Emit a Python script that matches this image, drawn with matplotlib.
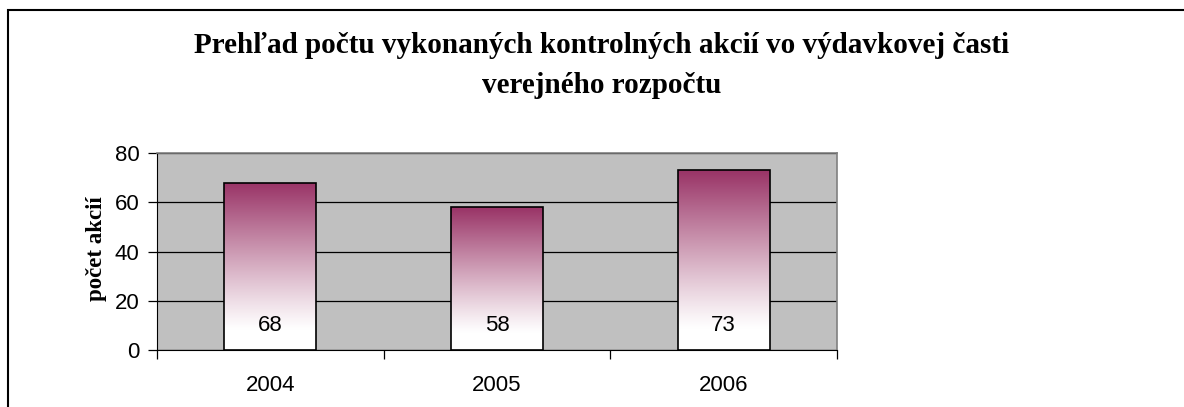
import matplotlib
matplotlib.use("Agg")
import matplotlib.pyplot as plt
import numpy as np
from matplotlib.patches import Rectangle

years = ["2004", "2005", "2006"]
counts = [68, 58, 73]
yticks = [0, 20, 40, 60, 80]
title_lines = ["Prehľad počtu vykonaných kontrolných akcií vo výdavkovej časti",
               "verejného rozpočtu"]
ylabel = "počet akcií"

plum = np.array([0x99, 0x33, 0x66]) / 255.0

W, H = 1184, 407
fig = plt.figure(figsize=(W / 100, H / 100), dpi=100)
ax = fig.add_axes([157 / W, 57 / H, 680 / W, 197 / H])
ax.set_facecolor("#c0c0c0")

# outer chart border (cut off at right and bottom)
fig.patches.append(Rectangle((8 / W, -0.1), 1.2, (397 / H) + 0.1,
                             transform=fig.transFigure, fill=False,
                             edgecolor="black", linewidth=1.5))

x = np.arange(len(years))
width = 0.405
bars = ax.bar(x, counts, width, color="none", edgecolor="black", linewidth=1.2, zorder=3)

# vertical gradient in each bar: plum at top -> white at bottom
t = np.linspace(0, 1, 256).reshape(-1, 1)
grad = np.clip((t - 0.12) / 0.88, 0, 1) ** 1.1
img = np.ones((256, 1, 3)) * (1 - grad[..., None]) + plum * grad[..., None]
for b in bars:
    x0, y0 = b.get_x(), b.get_y()
    w, h = b.get_width(), b.get_height()
    im = ax.imshow(img, extent=[x0, x0 + w, y0, y0 + h], origin="lower",
                   aspect="auto", zorder=2, interpolation="bilinear")
    im.set_clip_path(b)

for xi, v in zip(x, counts):
    ax.text(xi, 10, str(v), ha="center", va="center", fontsize=16,
            family="Liberation Sans", zorder=4)

ax.set_xlim(-0.5, 2.5)
ax.set_ylim(0, 80)
ax.set_yticks(yticks)
ax.yaxis.grid(True, color="black", linewidth=0.9, zorder=1)
ax.set_axisbelow(True)
ax.set_yticklabels([str(v) for v in yticks], family="Liberation Sans", fontsize=16)
ax.tick_params(axis="y", length=6.5, width=0.9, pad=6)

ax.set_xticks([-0.5, 0.5, 1.5, 2.5])
ax.set_xticklabels([])
ax.set_xticks(x, minor=True)
ax.set_xticklabels(years, minor=True, family="Liberation Sans", fontsize=16)
ax.tick_params(axis="x", which="major", length=6.5, width=0.9, direction="out")
ax.tick_params(axis="x", which="minor", length=0, pad=18)

for s in ["top", "right"]:
    ax.spines[s].set_color("#808080")
    ax.spines[s].set_linewidth(1.2)
ax.spines["left"].set_color("black")
ax.spines["bottom"].set_color("black")

ax.set_ylabel(ylabel, family="Liberation Serif", fontweight="bold", fontsize=16.5)
ax.yaxis.set_label_coords((107 - 157) / 680, 0.515)

fig.text(602 / W, 1 - 53 / H, title_lines[0], ha="center", va="baseline",
         family="Liberation Serif", fontweight="bold", fontsize=21)
fig.text(602 / W, 1 - 93 / H, title_lines[1], ha="center", va="baseline",
         family="Liberation Serif", fontweight="bold", fontsize=21)

fig.savefig("out.png", dpi=100)
